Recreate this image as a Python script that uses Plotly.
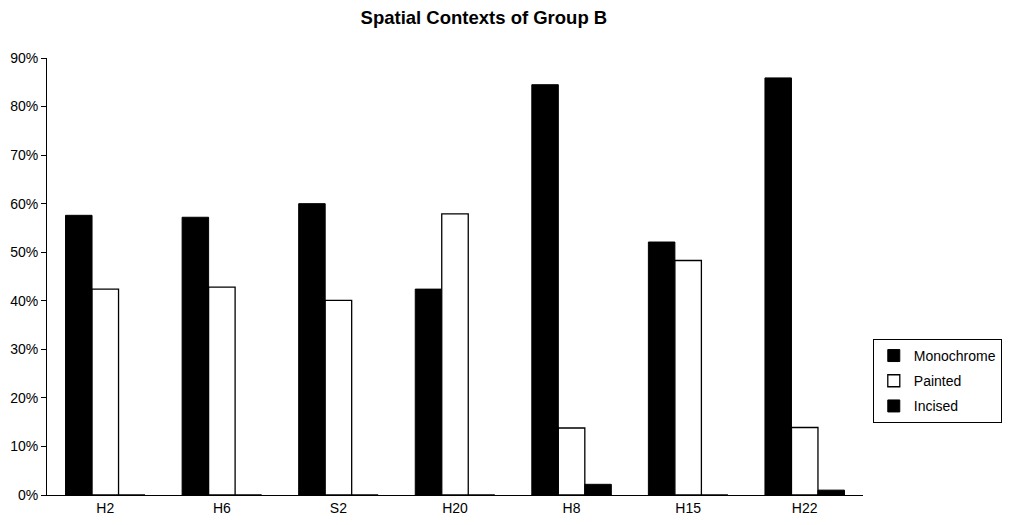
import plotly.graph_objects as go

categories = ["H2", "H6", "S2", "H20", "H8", "H15", "H22"]
monochrome = [0.576, 0.572, 0.600, 0.424, 0.845, 0.521, 0.859]
painted = [0.424, 0.428, 0.401, 0.579, 0.138, 0.483, 0.139]
incised = [0.0, 0.0, 0.0, 0.0, 0.022, 0.0, 0.010]
y_ticks = [0, 0.1, 0.2, 0.3, 0.4, 0.5, 0.6, 0.7, 0.8, 0.9]
y_tick_labels = ["0%", "10%", "20%", "30%", "40%", "50%", "60%", "70%", "80%", "90%"]

font_family = "Liberation Sans, Arial, Helvetica, sans-serif"

fig = go.Figure()
fig.add_trace(go.Bar(name="Monochrome", x=categories, y=monochrome, legendgroup="m",
                     marker=dict(color="black", line=dict(color="black", width=1))))
fig.add_trace(go.Bar(name="Painted", x=categories, y=painted, legendgroup="p",
                     marker=dict(color="white", line=dict(color="black", width=1.3))))
fig.add_trace(go.Bar(name="Incised", x=categories, y=incised, legendgroup="i",
                     marker=dict(color="black", line=dict(color="black", width=1))))

fig.update_layout(
    width=1004, height=517,
    margin=dict(l=39, r=149, t=50, b=30, autoexpand=False),
    paper_bgcolor="white", plot_bgcolor="white",
    barmode="group", bargap=0.318, bargroupgap=0,
    font=dict(family=font_family, size=14, color="black"),
    title=dict(text="<b>Spatial Contexts of Group B</b>", x=0.474, xanchor="center",
               y=0.982, yanchor="middle", font=dict(size=18.5, family=font_family)),
    showlegend=True,
    legend=dict(x=1.012, xanchor="left", y=0.261, yanchor="middle",
                bordercolor="black", borderwidth=1, bgcolor="white",
                font=dict(size=14, family=font_family),
                itemwidth=30, tracegroupgap=4, traceorder="grouped"),
    xaxis=dict(showline=True, linecolor="black", linewidth=1, ticks="",
               showgrid=False, tickfont=dict(size=14), automargin=False),
    yaxis=dict(range=[0, 0.9], tickvals=y_ticks, ticktext=y_tick_labels,
               showline=True, linecolor="black", linewidth=1, ticks="outside",
               ticklen=5, tickcolor="black", showgrid=False, zeroline=False,
               tickfont=dict(size=14), automargin=False),
)

fig.write_html("out.html")
